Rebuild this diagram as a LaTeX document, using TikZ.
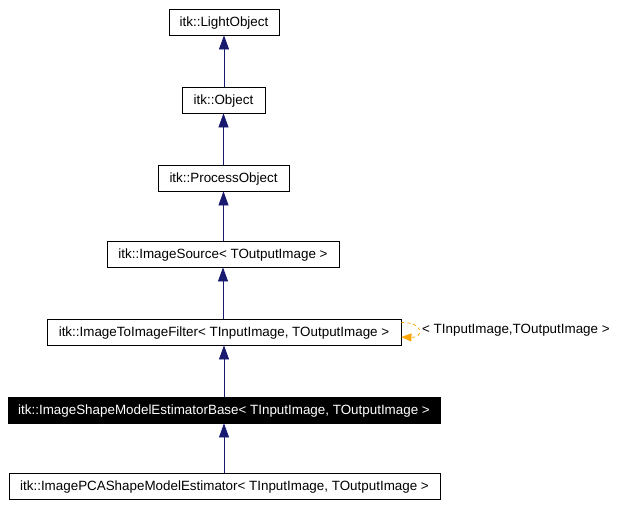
\documentclass[tikz,border=0pt]{standalone}
\usepackage{fontspec}
\setmainfont{Liberation Sans}
\usetikzlibrary{arrows.meta}
\definecolor{navy}{HTML}{191970}
\definecolor{orng}{HTML}{FFA500}
\tikzset{
  lbl/.style={font=\fontsize{13.4}{15}\selectfont},
  cls/.style={draw=black, line width=0.8pt, fill=white, inner sep=0pt, minimum height=26pt, text height=9.5pt, text depth=1.5pt, lbl, text=black},
  clsdark/.style={cls, fill=black, text=white},
  inh/.style={draw=navy, line width=0.8pt, -{Triangle[length=14pt,width=10pt,fill=navy]}},
  tmpl/.style={draw=orng, line width=0.8pt, dashed, -{Triangle[length=10pt,width=8pt,fill=orng]}}
}
\begin{document}
\begin{tikzpicture}[x=1pt,y=-1pt]
\useasboundingbox (0,0) rectangle (620,506);
\node[cls, minimum width=110pt] (lo) at (224,22) {itk::LightObject};
\node[cls, minimum width=83pt] (ob) at (223.5,100) {itk::Object};
\node[cls, minimum width=131pt] (po) at (223.5,178) {itk::ProcessObject};
\node[cls, minimum width=232pt] (is) at (223,254) {itk::ImageSource< TOutputImage >};
\node[cls, minimum width=354pt] (ii) at (224,332) {itk::ImageToImageFilter< TInputImage, TOutputImage >};
\node[clsdark, minimum width=432pt] (sb) at (224,410) {itk::ImageShapeModelEstimatorBase< TInputImage, TOutputImage >};
\node[cls, minimum width=431pt] (pc) at (224.5,486) {itk::ImagePCAShapeModelEstimator< TInputImage, TOutputImage >};
\draw[inh] (ob.north -| lo.south) -- (lo.south);
\draw[inh] (po.north) -- (ob.south);
\draw[inh] (is.north -| po.south) -- (po.south);
\draw[inh] (ii.north -| is.south) -- (is.south);
\draw[inh] (sb.north) -- (ii.south);
\draw[inh] (pc.north -| sb.south) -- (sb.south);
\coordinate (la) at ([yshift=-4pt]ii.north east);
\coordinate (lb) at ([yshift=-5pt]ii.east);
\draw[tmpl] (la) .. controls (424,322) and (424,338) .. (lb);
\node[anchor=west, inner sep=0pt, lbl] (tl) at (422,330) {< TInputImage,TOutputImage >};
\end{tikzpicture}
\end{document}
